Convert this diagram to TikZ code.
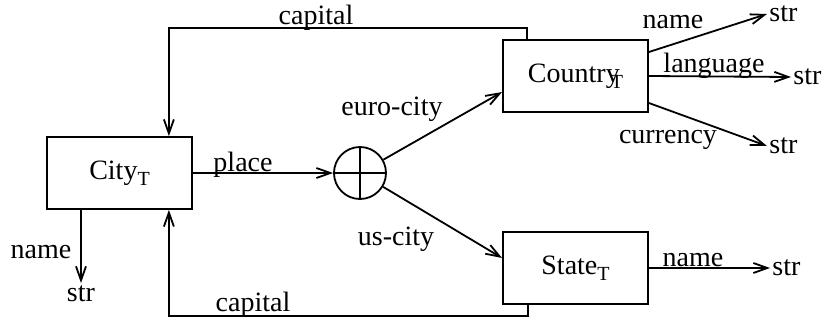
\documentclass[tikz,border=0pt]{standalone}
\usepackage{fontspec}
\setmainfont{Liberation Serif}
\usetikzlibrary{arrows.meta,calc}
\newcommand{\subT}{\raisebox{-0.45ex}{\fontsize{10}{10}\selectfont T}}
\begin{document}
\begin{tikzpicture}[x=0.5pt,y=-0.5pt,
  every node/.style={font=\fontsize{14}{16}\selectfont},
  box/.style={draw,line width=0.9pt,minimum width=72.5pt,minimum height=36pt,inner sep=0pt},
  conn/.style={line width=0.9pt,-{Straight Barb[length=7pt,width=5pt]}},
  plain/.style={line width=0.9pt},
  lbl/.style={inner sep=0pt,anchor=base},
  strnode/.style={inner sep=1pt,anchor=west}]
\useasboundingbox (0,0) rectangle (827,321);
% boxes
\node[box] (city) at (119.5,173) {City\subT};
\node[box] (country) at (575.5,76) {Country\kern-0.32em\subT};
\node[box] (state) at (575.5,268) {State\subT};
\node[draw,circle,line width=0.9pt,minimum size=26pt,inner sep=0pt] (circ) at (360,173) {};
\draw[plain] (circ.west) -- (circ.east);
\draw[plain] (circ.north) -- (circ.south);
% str nodes
\node[strnode] (str1) at (767,14) {str};
\node[strnode] (str2) at (791,77) {str};
\node[strnode] (str3) at (767,146) {str};
\node[strnode] (str4) at (770,268) {str};
\node[inner sep=1pt,anchor=north] (str5) at (81,283) {str};
% connectors
\draw[conn] (city.east) -- (circ.west);
\draw[conn] (circ) -- ([yshift=-8pt]country.west);
\draw[conn] (circ) -- ([yshift=5pt]state.west);
\draw[conn] ([yshift=12pt]country.east) -- (str1.west);
\draw[conn] (country.east) -- (str2.west);
\draw[conn] ([yshift=-13.5pt]country.east) -- (str3.west);
\draw[conn] (state.east) -- (str4.west);
\draw[conn] (str5.north |- city.south) -- (str5.north);
\draw[conn] ([xshift=12.5pt]country.north west) -- ++(0,-11) -| ([xshift=-12pt]city.north east);
\draw[conn] ([xshift=13pt]state.south west) -- ++(0,11) -| ([xshift=-12pt]city.south east);
% labels
\node[lbl] at (316,25) {capital};
\node[lbl] at (253,312) {capital};
\node[lbl] at (243,171) {place};
\node[lbl] at (392,115) {euro-city};
\node[lbl] at (396,245) {us-city};
\node[lbl] at (673,28) {name};
\node[lbl] at (714,72) {language};
\node[lbl] at (668,143) {currency};
\node[lbl] at (693,266) {name};
\node[lbl] at (41,258) {name};
\end{tikzpicture}
\end{document}
